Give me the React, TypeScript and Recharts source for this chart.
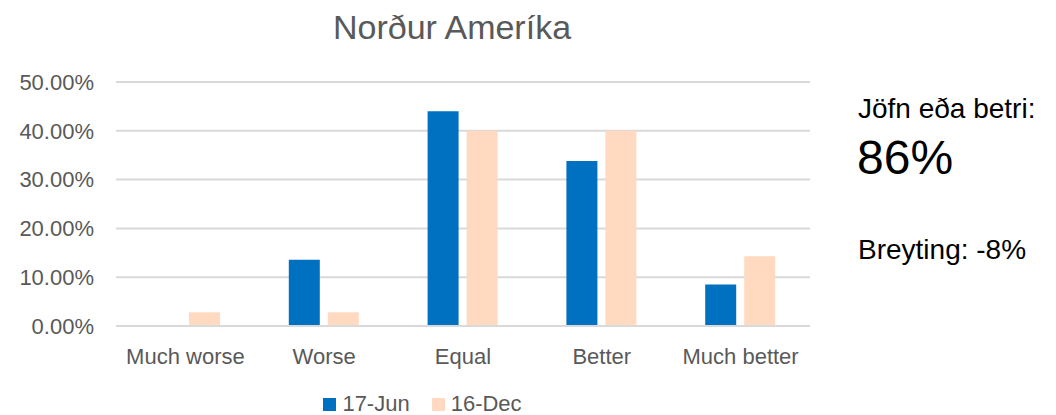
import { Bar, BarChart, CartesianGrid, Legend, XAxis, YAxis } from "recharts";

const categories = ["Much worse", "Worse", "Equal", "Better", "Much better"];
const jun17 = [0, 13.6, 44.0, 33.8, 8.5];
const dec16 = [2.8, 2.8, 40.0, 40.0, 14.3];
const yTicks = [0, 10, 20, 30, 40, 50];

const seriesOrder = ["17-Jun", "16-Dec"];
const BLUE = "#0070C0";
const PEACH = "#FFDAC0";
const FONT = '"Liberation Sans", Arial, sans-serif';

const data = categories.map((name, i) => ({
  name,
  jun: jun17[i],
  dec: dec16[i],
}));

function ChartLegend({ payload }: { payload?: { value: string; color: string }[] }) {
  const items = [...(payload ?? [])].sort(
    (a, b) => seriesOrder.indexOf(a.value) - seriesOrder.indexOf(b.value),
  );
  return (
    <div
      style={{
        display: "flex",
        justifyContent: "center",
        alignItems: "center",
        height: 22,
        fontFamily: FONT,
        fontSize: 22,
        color: "#595959",
      }}
    >
      {items.map((p, i) => (
        <div
          key={p.value}
          style={{ display: "flex", alignItems: "center", marginLeft: i === 0 ? 0 : 22 }}
        >
          <span style={{ width: 13, height: 13, background: p.color, marginRight: 6 }} />
          <span>{p.value}</span>
        </div>
      ))}
    </div>
  );
}

export default function App() {
  return (
    <div
      style={{
        position: "absolute",
        left: 0,
        top: 0,
        width: 1056,
        height: 415,
        background: "#fff",
        overflow: "hidden",
        fontFamily: FONT,
      }}
    >
      <div
        style={{
          position: "absolute",
          left: 0,
          width: 904,
          top: 7,
          textAlign: "center",
          fontSize: 34,
          color: "#595959",
          lineHeight: "40px",
        }}
      >
        Norður Ameríka
      </div>

      <BarChart
        width={845}
        height={415}
        data={data}
        margin={{ top: 82, right: 35, left: 0, bottom: 0 }}
        barSize={31}
        barGap={8}
      >
        <CartesianGrid vertical={false} stroke="#D9D9D9" strokeWidth={2} />
        <XAxis
          dataKey="name"
          axisLine={{ stroke: "#D9D9D9", strokeWidth: 2 }}
          tickLine={false}
          tickSize={0}
          tickMargin={22}
          height={67}
          interval={0}
          tick={{ fill: "#595959", fontSize: 22, fontFamily: FONT }}
        />
        <YAxis
          width={116}
          domain={[0, 50]}
          ticks={yTicks}
          axisLine={false}
          tickLine={false}
          tickSize={0}
          tickMargin={22}
          tickFormatter={(v: number) => `${v.toFixed(2)}%`}
          tick={{ fill: "#595959", fontSize: 22, fontFamily: FONT }}
        />
        <Legend
          verticalAlign="bottom"
          align="center"
          wrapperStyle={{ bottom: 0, left: 0, width: 845 }}
          content={(props: any) => <ChartLegend payload={props.payload} />}
        />
        <Bar dataKey="jun" name="17-Jun" fill={BLUE} isAnimationActive={false} />
        <Bar dataKey="dec" name="16-Dec" fill={PEACH} isAnimationActive={false} />
      </BarChart>

      <div style={{ position: "absolute", left: 858, top: 93, fontSize: 28, color: "#000", lineHeight: "32px" }}>
        Jöfn eða betri:
      </div>
      <div style={{ position: "absolute", left: 857, top: 130, fontSize: 48, color: "#000", lineHeight: "56px" }}>
        86%
      </div>
      <div style={{ position: "absolute", left: 858, top: 234, fontSize: 28, color: "#000", lineHeight: "32px" }}>
        Breyting: -8%
      </div>
    </div>
  );
}
